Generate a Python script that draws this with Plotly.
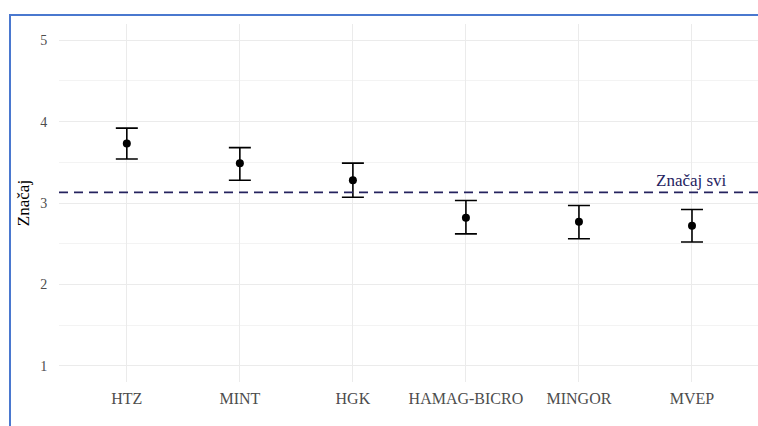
import plotly.graph_objects as go

categories = ["HTZ", "MINT", "HGK", "HAMAG-BICRO", "MINGOR", "MVEP"]
means = [3.73, 3.49, 3.28, 2.82, 2.77, 2.72]
upper = [3.92, 3.68, 3.49, 3.03, 2.97, 2.92]
lower = [3.54, 3.28, 3.07, 2.62, 2.56, 2.52]
overall_mean = 3.13
overall_label = "Značaj svi"
y_ticks = [1, 2, 3, 4, 5]
y_title = "Značaj"

# page body margin is removed by a post script, so the figure fills the window
W, H = 758, 426
ML, MR, MT = 59, 0, 24
MB = H - 382

err_plus = [u - m for u, m in zip(upper, means)]
err_minus = [m - l for m, l in zip(means, lower)]

FONT = "Liberation Serif"
NAVY = "#25235F"

fig = go.Figure()
fig.add_trace(go.Scatter(
    x=categories, y=means, mode="markers",
    marker=dict(color="black", size=8),
    error_y=dict(type="data", symmetric=False, array=err_plus, arrayminus=err_minus,
                 color="black", thickness=1.6, width=11),
    showlegend=False, hoverinfo="skip",
))

fig.add_hline(y=overall_mean, line=dict(color=NAVY, width=1.6, dash="9px,6px"))

fig.add_annotation(x=categories[-1], y=overall_mean, text=overall_label, showarrow=False,
                   xanchor="center", yanchor="bottom", yshift=0,
                   font=dict(family=FONT, size=17, color=NAVY))

# screenshot frame (blue border top and left), in reference pixel coordinates
px_x = lambda p: (p - ML) / (W - ML - MR)
px_y = lambda p: 1 - (p - MT) / (H - MT - MB)
frame = "#4A78CF"
fig.add_shape(type="line", xref="paper", yref="paper", x0=px_x(9), x1=px_x(758),
              y0=px_y(15), y1=px_y(15), line=dict(color=frame, width=2))
fig.add_shape(type="line", xref="paper", yref="paper", x0=px_x(10), x1=px_x(10),
              y0=px_y(14), y1=px_y(426), line=dict(color=frame, width=2))

fig.update_layout(
    width=W, height=H,
    margin=dict(l=ML, r=MR, t=MT, b=MB),
    paper_bgcolor="white", plot_bgcolor="white",
    font=dict(family=FONT),
    xaxis=dict(type="category", categoryorder="array", categoryarray=categories,
               range=[-0.6, 5.584], showgrid=True, gridcolor="#EBEBEB", gridwidth=1,
               zeroline=False, showline=False,
               tickfont=dict(family=FONT, size=16, color="#4D4D4D"),
               ticks="outside", ticklen=2, tickcolor="rgba(0,0,0,0)"),
    yaxis=dict(range=[0.8, 5.2], tickvals=y_ticks, showgrid=True, gridcolor="#EBEBEB",
               gridwidth=1, zeroline=False, showline=False,
               minor=dict(dtick=0.5, tick0=0.5, showgrid=True, gridcolor="#F3F3F3", gridwidth=1),
               tickfont=dict(family=FONT, size=14, color="#4D4D4D"),
               ticks="outside", ticklen=8, tickcolor="rgba(0,0,0,0)",
               title=dict(text=y_title, font=dict(family=FONT, size=17, color="black"), standoff=6)),
)

fig.write_html("out.html", config={"displayModeBar": False},
               post_script="document.body.style.margin='0';document.body.style.overflow='hidden';")
